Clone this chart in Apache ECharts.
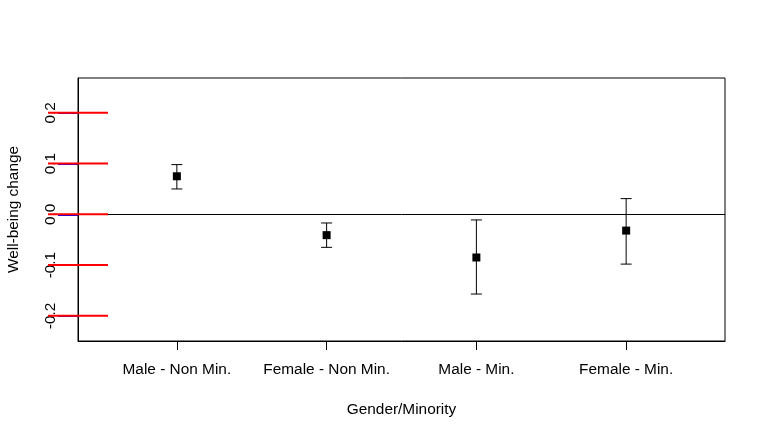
<!DOCTYPE html>
<html lang="en">
    <head>
        <meta http-equiv="Content-Type" content="text/html; charset=utf-8" />
        <title>Well-being change</title>
        <style>
            * {
                margin: 0;
                padding: 0;
            }
            html,
            body {
                width: 100%;
                height: 100%;
                background: #fff;
            }
            #chart {
                width: 766px;
                height: 439px;
            }
        </style>
    </head>
    <body>
        <div id="chart"></div>
        <script src="https://cdn.jsdelivr.net/npm/echarts@6/dist/echarts.min.js"></script>
        <script>
            const categories = ['Male - Non Min.', 'Female - Non Min.', 'Male - Min.', 'Female - Min.']
            const estimates = [0.075, -0.041, -0.085, -0.032]
            const lower = [0.05, -0.065, -0.157, -0.098]
            const upper = [0.098, -0.017, -0.011, 0.031]
            const yTicks = [-0.2, -0.1, 0.0, 0.1, 0.2]
            const xTicks = [1, 2, 3, 4]

            const xMin = 0.34
            const font = 'Liberation Sans, Arial, sans-serif'
            const fontSize = 15.4
            const chart = echarts.init(document.getElementById('chart'))

            // error bars: vertical line with caps
            function renderBar(params, api) {
                const x = api.value(0)
                const lo = api.coord([x, api.value(1)])
                const hi = api.coord([x, api.value(2)])
                const half = 5.5
                const style = { stroke: '#000', lineWidth: 1 }
                return {
                    type: 'group',
                    children: [
                        { type: 'line', shape: { x1: lo[0], y1: lo[1], x2: hi[0], y2: hi[1] }, style },
                        { type: 'line', shape: { x1: lo[0] - half, y1: lo[1], x2: lo[0] + half, y2: lo[1] }, style },
                        { type: 'line', shape: { x1: hi[0] - half, y1: hi[1], x2: hi[0] + half, y2: hi[1] }, style },
                    ],
                }
            }

            // y ticks, drawn outside the left edge of the box
            function renderYTick(params, api) {
                const p = api.coord([api.value(0), api.value(1)])
                return {
                    type: 'line',
                    shape: { x1: p[0] - 30, y1: p[1], x2: p[0] + 30, y2: p[1] },
                    style: { stroke: '#f00', lineWidth: 2 },
                }
            }

            chart.setOption({
                animation: false,
                textStyle: { fontFamily: font },
                grid: {
                    left: 78,
                    top: 78,
                    width: 647,
                    height: 263,
                    outerBoundsMode: 'none',
                    show: true,
                    borderColor: '#000',
                    borderWidth: 1,
                },
                xAxis: {
                    type: 'value',
                    min: xMin,
                    max: 4.66,
                    name: 'Gender/Minority',
                    nameLocation: 'middle',
                    nameGap: 61,
                    nameTextStyle: { color: '#000', fontSize, fontFamily: font },
                    axisLine: { show: true, onZero: false, lineStyle: { color: '#000' } },
                    splitLine: { show: false },
                    axisTick: {
                        show: true,
                        length: 9,
                        customValues: xTicks,
                        lineStyle: { color: '#000' },
                    },
                    axisLabel: {
                        customValues: xTicks,
                        margin: 21,
                        color: '#000',
                        fontSize,
                        fontFamily: font,
                        formatter: (v) => categories[Math.round(v) - 1],
                    },
                },
                yAxis: {
                    type: 'value',
                    min: -0.2495,
                    max: 0.2686,
                    name: 'Well-being change',
                    nameLocation: 'middle',
                    nameGap: 57,
                    nameTextStyle: { color: '#000', fontSize, fontFamily: font },
                    axisLine: { show: true, onZero: false, lineStyle: { color: '#000' } },
                    splitLine: { show: false },
                    axisTick: {
                        show: true,
                        length: 20,
                        customValues: yTicks,
                        lineStyle: { color: '#00f', width: 2 },
                    },
                    axisLabel: {
                        customValues: yTicks,
                        rotate: 90,
                        margin: 20,
                        color: '#000',
                        fontSize,
                        fontFamily: font,
                        formatter: (v) => v.toFixed(1),
                    },
                },
                series: [
                    {
                        type: 'custom',
                        renderItem: renderYTick,
                        clip: false,
                        silent: true,
                        z: 10,
                        data: yTicks.map((v) => [xMin, v]),
                    },
                    {
                        type: 'custom',
                        renderItem: renderBar,
                        data: xTicks.map((x, i) => [x, lower[i], upper[i]]),
                        z: 2,
                    },
                    {
                        type: 'scatter',
                        symbol: 'rect',
                        symbolSize: 8,
                        itemStyle: { color: '#000', opacity: 1 },
                        data: xTicks.map((x, i) => [x, estimates[i]]),
                        z: 3,
                        markLine: {
                            silent: true,
                            symbol: 'none',
                            label: { show: false },
                            lineStyle: { color: '#000', width: 1, type: 'solid' },
                            data: [{ yAxis: 0 }],
                        },
                    },
                ],
            })
        </script>
    </body>
</html>
